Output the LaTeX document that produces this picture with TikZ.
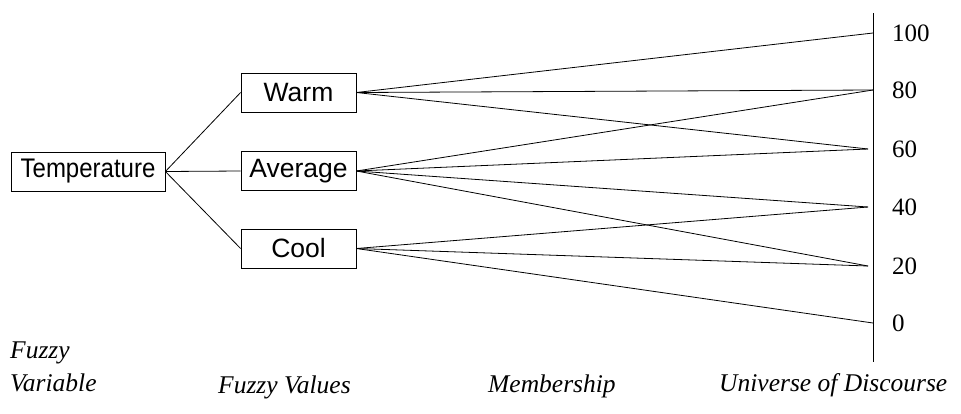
\documentclass[tikz,border=0pt]{standalone}
\usepackage{fontspec}
\usepackage{graphicx}
\setmainfont{Liberation Serif}
\newfontfamily\boxfont{Liberation Sans}
\begin{document}
\begin{tikzpicture}[x=1pt,y=-1pt,
  valbox/.style={draw, line width=0.8pt, inner sep=0pt, minimum height=39pt,
    font=\boxfont\fontsize{26.5}{30}\selectfont},
  link/.style={line width=0.8pt},
  tick/.style={anchor=west, inner sep=0pt, font=\fontsize{25}{29}\selectfont},
  caption/.style={anchor=base west, inner sep=0pt, font=\itshape\fontsize{25.5}{29}\selectfont}]
\useasboundingbox (0,0) rectangle (961,413);

% fuzzy variable and its values
\node[valbox, minimum width=154pt, font=\boxfont\fontsize{24}{28}\selectfont] (temp) at (88,171.5)
  {\scalebox{1}[1.12]{Temperature}};
\node[valbox, minimum width=115pt] (warm) at (298.5,92.5) {Warm};
\node[valbox, minimum width=115pt] (avg)  at (298.5,171) {Average};
\node[valbox, minimum width=115pt] (cool) at (298.5,248.5) {Cool};

\draw[link] (temp.east) -- (warm.west);
\draw[link] (temp.east) -- (avg.west);
\draw[link] (temp.east) -- (cool.west);

% universe of discourse axis
\coordinate (axtop) at (873,13);
\coordinate (axbot) at (873,362);
\draw[line width=0.8pt] (axtop) -- (axbot);

\coordinate (p100) at (873,33);
\coordinate (p80)  at (873,90);
\coordinate (p60)  at (868,149);
\coordinate (p40)  at (868,207);
\coordinate (p20)  at (868,266);
\coordinate (p0)   at (873,323);

\node[tick] (l100) at (892,33)  {100};
\node[tick] (l80)  at (892,90)  {80};
\node[tick] (l60)  at (892,149) {60};
\node[tick] (l40)  at (892,207) {40};
\node[tick] (l20)  at (892,266) {20};
\node[tick] (l0)   at (892,323) {0};

% membership links
\draw[link] (warm.east) -- (p100);
\draw[link] (warm.east) -- (p80);
\draw[link] (warm.east) -- (p60);
\draw[link] (avg.east) -- (p80);
\draw[link] (avg.east) -- (p60);
\draw[link] (avg.east) -- (p40);
\draw[link] (avg.east) -- (p20);
\draw[link] (cool.east) -- (p40);
\draw[link] (cool.east) -- (p20);
\draw[link] (cool.east) -- (p0);

% column captions
\node[caption] (c1a) at (10,358) {Fuzzy};
\node[caption] (c1b) at (10,391) {Variable};
\node[caption] (c2)  at (218,393) {Fuzzy Values};
\node[caption] (c3)  at (488,392) {Membership};
\node[caption] (c4)  at (719,391) {Universe of Discourse};
\end{tikzpicture}
\end{document}
